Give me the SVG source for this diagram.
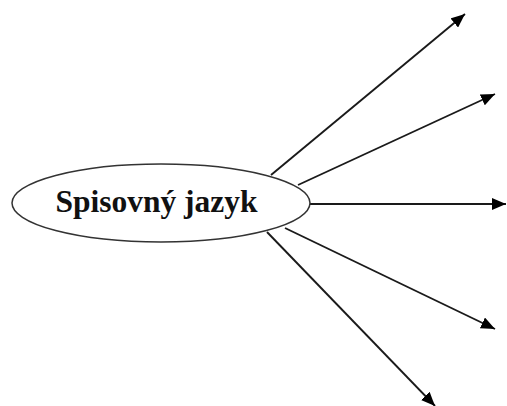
<svg xmlns="http://www.w3.org/2000/svg" width="507" height="406" viewBox="0 0 507 406">
<style>
.edge{stroke:#1a1a1a;stroke-width:1.9;fill:none}
.node{fill:#fff;stroke:#333;stroke-width:1.5}
.lbl{font-family:"Liberation Serif","Times New Roman",serif;font-weight:bold;font-size:31.5px;fill:#111}
</style>
<defs>
<marker id="ah" markerUnits="userSpaceOnUse" markerWidth="14" markerHeight="12" refX="14" refY="6" orient="auto">
<path d="M0,0 L14,6 L0,12 Z" fill="#000"/>
</marker>
</defs>
<rect width="507" height="406" fill="#fff"/>
<g id="connectors">
<line class="edge" x1="271" y1="175" x2="465" y2="14" marker-end="url(#ah)"/>
<line class="edge" x1="298" y1="185" x2="495" y2="94" marker-end="url(#ah)"/>
<line class="edge" x1="310" y1="204" x2="506" y2="204" marker-end="url(#ah)"/>
<line class="edge" x1="285" y1="228" x2="495" y2="329" marker-end="url(#ah)"/>
<line class="edge" x1="267" y1="232" x2="435" y2="406" marker-end="url(#ah)"/>
</g>
<g id="node-spisovny">
<ellipse class="node" cx="161" cy="203" rx="149" ry="39"/>
<text class="lbl" x="156.5" y="212" text-anchor="middle">Spisovný jazyk</text>
</g>
</svg>
